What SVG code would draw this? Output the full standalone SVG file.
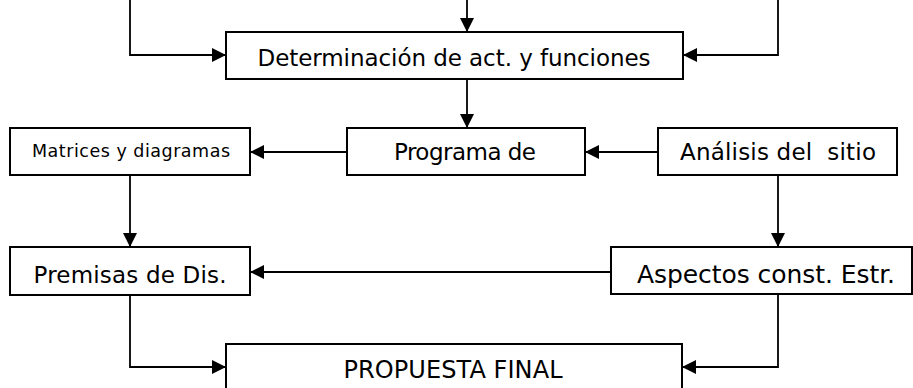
<svg xmlns="http://www.w3.org/2000/svg" width="913" height="388" viewBox="0 0 913 388">
<style>
.box{fill:#fff;stroke:#000;stroke-width:2}
.lbl{font-family:"DejaVu Sans","Liberation Sans",sans-serif;font-size:23px;fill:#000;text-anchor:middle}
.sm{font-size:17.5px}
.big{font-size:24px}
.wide{font-size:25px}
.con{fill:none;stroke:#000;stroke-width:1.8;marker-end:url(#ah)}
</style>
<defs>
<marker id="ah" markerUnits="userSpaceOnUse" markerWidth="15" markerHeight="15" refX="14" refY="7.5" orient="auto">
<path d="M0,0.5 L14,7.5 L0,14.5 z" fill="#000"/>
</marker>
</defs>
<rect width="913" height="388" fill="#fff"/>
<g id="connectors">
<path class="con" d="M467,0 V32"/>
<path class="con" d="M130,0 V55 H226"/>
<path class="con" d="M778,0 V55 H683"/>
<path class="con" d="M467,79 V128"/>
<path class="con" d="M658,152 H585"/>
<path class="con" d="M347,152 H250"/>
<path class="con" d="M130,175 V247"/>
<path class="con" d="M778,175 V247"/>
<path class="con" d="M611,272 H250"/>
<path class="con" d="M130,295 V367 H226"/>
<path class="con" d="M778,294 V367 H682"/>
</g>
<g id="n-determinacion">
<rect class="box" x="226" y="32" width="457" height="47"/>
<text class="lbl" x="454" y="66" textLength="393">Determinación de act. y funciones</text>
</g>
<g id="n-matrices">
<rect class="box" x="10" y="128" width="240" height="47"/>
<text class="lbl sm" x="131" y="157" textLength="198">Matrices y diagramas</text>
</g>
<g id="n-programa">
<rect class="box" x="347" y="128" width="238" height="47"/>
<text class="lbl" x="465" y="160" textLength="142">Programa de</text>
</g>
<g id="n-analisis">
<rect class="box" x="658" y="128" width="239" height="47"/>
<text class="lbl" x="778" y="160" textLength="196" xml:space="preserve">Análisis del  sitio</text>
</g>
<g id="n-premisas">
<rect class="box" x="10" y="247" width="240" height="48"/>
<text class="lbl" x="130" y="283" textLength="193">Premisas de Dis.</text>
</g>
<g id="n-aspectos">
<rect class="box" x="611" y="247" width="301" height="47"/>
<text class="lbl wide" x="766" y="283" textLength="258">Aspectos const. Estr.</text>
</g>
<g id="n-propuesta">
<rect class="box" x="226" y="344" width="456" height="50"/>
<text class="lbl big" x="453" y="378" textLength="219">PROPUESTA FINAL</text>
</g>
</svg>
